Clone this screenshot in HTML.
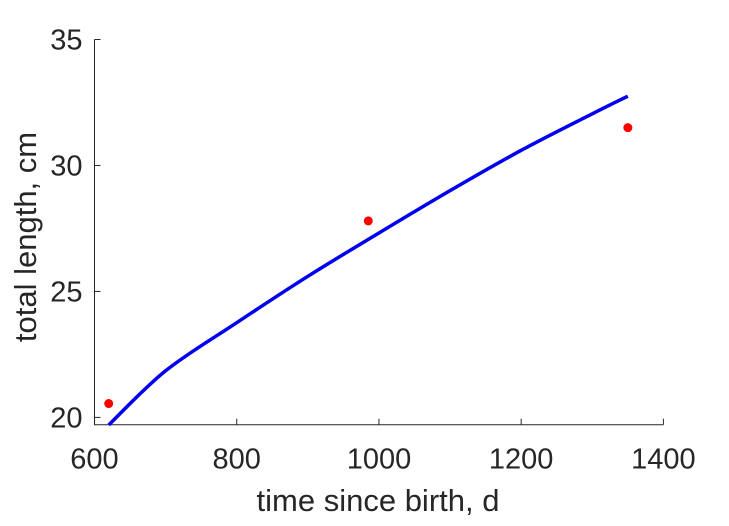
<!DOCTYPE html>
<html><head><meta charset="utf-8"><style>
body{margin:0;background:#fff;}
svg text{font-family:"Liberation Sans",sans-serif;fill:#262626;}
</style></head><body>
<svg id="chart" width="729" height="521" xmlns="http://www.w3.org/2000/svg">
<g id="axes"></g><g id="marks"></g>
<text x="378" y="511" font-size="31" text-anchor="middle">time since birth, d</text>
<text transform="translate(36,237) rotate(-90)" font-size="31" text-anchor="middle">total length, cm</text>
</svg>
<script>
const xTicks=[600,800,1000,1200,1400];
const yTicks=[20,25,30,35];
const curveT=[620,700,800,900,1000,1100,1200,1300,1350];
const curveL=[19.7,21.85,23.76,25.6,27.32,29.0,30.6,32.05,32.75];
const dataT=[620,985,1350];
const dataL=[20.55,27.8,31.5];
const x0=94.5,x1=663.4,xmin=600,xmax=1400;
const yTop=39.5,yB=424.7,ymax=35,ymin=19.71;
const X=v=>x0+(v-xmin)/(xmax-xmin)*(x1-x0);
const Y=v=>yTop+(ymax-v)/(ymax-ymin)*(yB-yTop);
const NS="http://www.w3.org/2000/svg";
const ax=document.getElementById('axes'),mk=document.getElementById('marks');
function mkEl(t,a,p){const e=document.createElementNS(NS,t);for(const k in a)e.setAttribute(k,a[k]);p.appendChild(e);return e;}
let e=mkEl('path',{d:`M${x0},${yTop}V${yB}H${x1}`,stroke:'#262626','stroke-width':1,fill:'none'},ax);


xTicks.forEach(t=>{
 let l=mkEl('line',{x1:X(t),x2:X(t),y1:yB,y2:yB-6,stroke:'#262626'},ax);
 
 
 let tx=mkEl('text',{x:X(t),y:yB+44,'font-size':29,'text-anchor':'middle'},ax);tx.textContent=t;
 
 
});
yTicks.forEach(t=>{
 let l=mkEl('line',{x1:x0,x2:x0+6,y1:Y(t),y2:Y(t),stroke:'#262626'},ax);
 
 
 let tx=mkEl('text',{x:x0-12,y:Y(t)+10,'font-size':29,'text-anchor':'end'},ax);tx.textContent=t;
 
 
});
// Catmull-Rom smooth path
const P=curveT.map((t,i)=>[X(t),Y(curveL[i])]);
let d=`M${P[0][0]},${P[0][1]}`;
for(let i=0;i<P.length-1;i++){
 const p0=P[i-1]||P[i],p1=P[i],p2=P[i+1],p3=P[i+2]||P[i+1];
 const c1=[p1[0]+(p2[0]-p0[0])/6,p1[1]+(p2[1]-p0[1])/6];
 const c2=[p2[0]-(p3[0]-p1[0])/6,p2[1]-(p3[1]-p1[1])/6];
 d+=`C${c1[0]},${c1[1]} ${c2[0]},${c2[1]} ${p2[0]},${p2[1]}`;
}
let pl=mkEl('path',{d:d,stroke:'#0000f0','stroke-width':3.5,fill:'none','stroke-linejoin':'round'},mk);


dataT.forEach((t,i)=>{
 let c=mkEl('circle',{cx:X(t),cy:Y(dataL[i]),r:4.5,fill:'#ff0000'},mk);
 
 
});
</script>
</body></html>
